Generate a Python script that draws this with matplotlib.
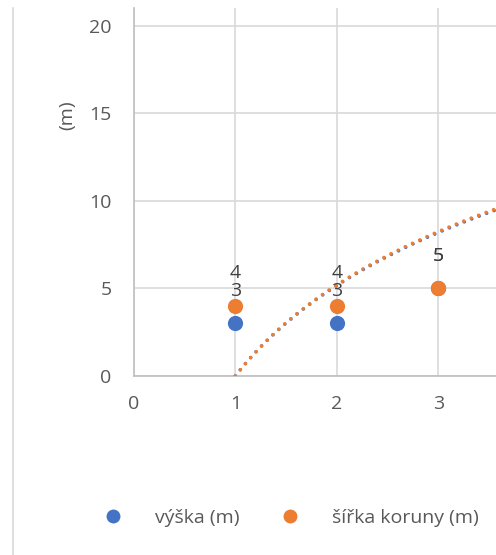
import numpy as np
import matplotlib
matplotlib.use("Agg")
import matplotlib.pyplot as plt
from matplotlib.lines import Line2D

plt.rcParams['font.family'] = ['Open Sans', 'DejaVu Sans']

x_vals = [1, 2, 3]
vyska = [3, 3, 5]
sirka = [4, 4, 5]
series_names = ["výška (m)", "šířka koruny (m)"]
colors = ["#4472C4", "#ED7D31"]
# logarithmic trendline coefficients (y = a*ln(x) + b)
trend_a = [7.45, 7.5]
trend_b = [0.0, 0.0]
xticks = [0, 1, 2, 3]
yticks = [0, 5, 10, 15, 20]

fig = plt.figure(figsize=(4.96, 5.55), dpi=100)
ax = fig.add_axes([0.270, 0.3225, 0.730, 0.663])
ax.set_xlim(0, 3.57)
ax.set_ylim(0, 21.0)

grid_c = "#D9D9D9"
ax.set_xticks(xticks)
ax.set_yticks(yticks)
ax.grid(True, color=grid_c, linewidth=1.2)
ax.set_axisbelow(True)
for s in ["top", "right"]:
    ax.spines[s].set_visible(False)
ax.spines["left"].set_color("#BFBFBF")
ax.spines["bottom"].set_color("#BFBFBF")
ax.spines["left"].set_linewidth(1.2)
ax.spines["bottom"].set_linewidth(1.2)
ax.tick_params(length=0, labelsize=14, labelcolor="#595959")
ax.tick_params(axis='x', pad=14)
ax.tick_params(axis='y', pad=16)
ax.set_ylabel("(m)", fontsize=14, color="#595959")
ax.yaxis.set_label_coords(-0.158, 0.71)

# trendlines
xt = np.linspace(1, 3.6, 200)
for a, b, c in zip(trend_a, trend_b, colors):
    ax.plot(xt, a * np.log(xt) + b, linestyle=(0, (0.01, 2.2)), color=c, linewidth=2.6,
            dash_capstyle='round', clip_on=True, zorder=3)

for ys, c, name in zip([vyska, sirka], colors, series_names):
    ax.scatter(x_vals, ys, s=120, color=c, zorder=4, label=name, linewidths=0)
    for xv, yv in zip(x_vals, ys):
        ax.annotate(str(yv), (xv, yv), xytext=(0, 17), textcoords="offset points",
                    ha="center", va="bottom", fontsize=14, color="#404040", zorder=5)

handles = [Line2D([], [], marker='o', linestyle='none', markersize=10,
                  markerfacecolor=c, markeredgewidth=0) for c in colors]
fig.legend(handles, series_names, loc="center", bbox_to_anchor=(0.577, 0.067),
           ncol=2, frameon=False, fontsize=14, labelcolor="#595959",
           handletextpad=1.15, columnspacing=1.6)

fig.add_artist(Line2D([13 / 496, 13 / 496], [0, 0.985], color="#D9D9D9", linewidth=1.2))

fig.savefig("out.png", dpi=100)
